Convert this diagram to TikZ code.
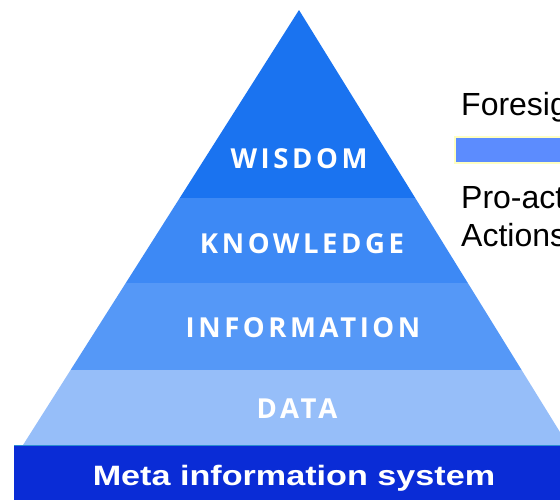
\documentclass[tikz,border=0pt]{standalone}
\usepackage{fontspec}
\setmainfont{Liberation Sans}
\newfontfamily\pyrfont[LetterSpace=13]{Open Sans}
\definecolor{cwisdom}{HTML}{1A73F0}
\definecolor{cknow}{HTML}{3D89F5}
\definecolor{cinfo}{HTML}{5598F7}
\definecolor{cdata}{HTML}{96BEF9}
\definecolor{cmeta}{HTML}{0A2CD6}
\definecolor{cmetaline}{HTML}{2A8FD0}
\definecolor{cbar}{HTML}{5C8CFE}
\definecolor{cbarline}{HTML}{FFFFC0}
\begin{document}
\begin{tikzpicture}[x=1pt,y=-1pt,
  layerlabel/.style={anchor=base,inner sep=0pt,text=white,font=\pyrfont\bfseries\fontsize{27.5}{27.5}\selectfont},
  sidetext/.style={anchor=base west,inner sep=0pt,text=black,font=\fontsize{32}{36}\selectfont}]
\useasboundingbox (0,0) rectangle (560,499);
\begin{scope}
\clip (0,0) rectangle (560,499);
% pyramid bands
\begin{scope}
\clip (299,10) -- (568,445) -- (23,445) -- cycle;
\fill[cwisdom] (0,0) rectangle (600,198);
\fill[cknow] (0,198) rectangle (600,283);
\fill[cinfo] (0,283) rectangle (600,370);
\fill[cdata] (0,370) rectangle (600,446);
\end{scope}
\node[layerlabel] (wisdom) at (299,168) {WISDOM};
\node[layerlabel] (knowledge) at (302,253) {KNOWLEDGE};
\node[layerlabel] (information) at (303,337) {INFORMATION};
\node[layerlabel] (data) at (297,418) {DATA};
% meta box
\fill[cmeta] (14,445) rectangle (562,501);
\draw[cmetaline,line width=1pt] (14,445.5) -- (562,445.5);
\node[anchor=base,inner sep=0pt,text=white,font=\bfseries\fontsize{28}{28}\selectfont] (meta) at (294,485) {\scalebox{1.22}[1]{Meta information system}};
% side
\draw[cbarline,line width=1.5pt,fill=cbar] (455,137) rectangle (565,163);
\node[sidetext] (foresight) at (461,115) {Foresight};
\node[sidetext] (proactive) at (461,208) {Pro-active};
\node[sidetext] (actions) at (461,246) {Actions};
\end{scope}
\end{tikzpicture}
\end{document}
